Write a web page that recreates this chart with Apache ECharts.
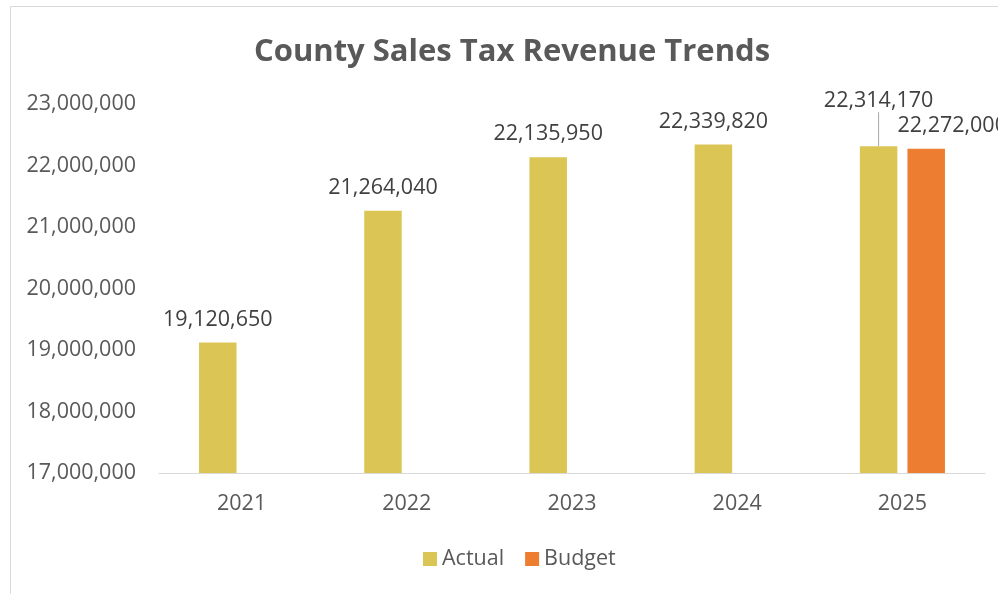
<!DOCTYPE html>
<html>
<head>
<meta charset="utf-8">
<script src="https://cdn.jsdelivr.net/npm/echarts@6/dist/echarts.min.js"></script>
<style>
  html, body { margin: 0; padding: 0; background: #fff; }
  #chart { width: 998px; height: 594px; }
</style>
</head>
<body>
<div id="chart"></div>
<script>
// Fiscal years on the category axis
const years = ['2021', '2022', '2023', '2024', '2025'];
// Collected sales tax revenue per year
const actual = [19120650, 21264040, 22135950, 22339820, 22314170];
// Budgeted revenue (only the current year has a budget figure)
const budget = [null, null, null, null, 22272000];
// Value axis range and step
const yMin = 17000000;
const yMax = 23000000;
const yStep = 1000000;

const FONT = '"Open Sans", "Noto Sans", sans-serif';
const fmt = v => Number(v).toLocaleString('en-US');

// The last actual label is lifted above the budget label and tied to its bar with a leader line
const LIFTED = actual.length - 1;
const actualData = actual.map((v, i) =>
  i === LIFTED ? { value: v, labelLine: { show: true } } : v
);

const chart = echarts.init(document.getElementById('chart'), null, { renderer: 'canvas' });

chart.setOption({
  backgroundColor: '#ffffff',
  animation: false,
  textStyle: { fontFamily: FONT },
  graphic: [{
    type: 'rect',
    shape: { x: 10.5, y: 6.5, width: 1000, height: 600 },
    style: { fill: 'none', stroke: '#D9D9D9', lineWidth: 1 },
    silent: true,
    z: -10
  }],
  title: {
    text: 'County Sales Tax Revenue Trends',
    left: 507,
    textAlign: 'center',
    top: 32,
    textStyle: { fontFamily: FONT, fontSize: 31, fontWeight: 'bold', color: '#595959' }
  },
  legend: {
    data: ['Actual', 'Budget'],
    left: 418,
    top: 543,
    itemWidth: 14,
    itemHeight: 14,
    itemGap: 21,
    icon: 'rect',
    textStyle: { fontFamily: FONT, fontSize: 21.5, color: '#595959' }
  },
  grid: { left: 159, right: 13, top: 104, bottom: 121, containLabel: false },
  xAxis: {
    type: 'category',
    data: years,
    axisLine: { show: true, lineStyle: { color: '#D9D9D9', width: 1 } },
    axisTick: { show: false },
    axisLabel: { fontFamily: FONT, fontSize: 21.5, color: '#595959', margin: 20 }
  },
  yAxis: {
    type: 'value',
    min: yMin,
    max: yMax,
    interval: yStep,
    axisLine: { show: false },
    axisTick: { show: false },
    splitLine: { show: false },
    axisLabel: { fontFamily: FONT, fontSize: 21.5, color: '#595959', margin: 23, formatter: fmt }
  },
  series: [
    {
      name: 'Actual',
      type: 'bar',
      data: actualData,
      barWidth: 37.5,
      barGap: '27%',
      itemStyle: { color: '#DBC655' },
      label: {
        show: true,
        position: 'top',
        distance: 12,
        fontFamily: FONT,
        fontSize: 21.5,
        color: '#404040',
        formatter: p => fmt(p.value)
      },
      labelLine: { show: false, lineStyle: { color: '#A6A6A6', width: 1 } },
      labelLayout: p => (p.dataIndex === LIFTED ? { dy: -22 } : {})
    },
    {
      name: 'Budget',
      type: 'bar',
      data: budget,
      barWidth: 37.5,
      barGap: '27%',
      itemStyle: { color: '#ED7D31' },
      label: {
        show: true,
        position: 'top',
        distance: 12,
        fontFamily: FONT,
        fontSize: 21.5,
        color: '#404040',
        formatter: p => fmt(p.value)
      },
      labelLayout: () => ({ dx: 26 })
    }
  ]
});
</script>
</body>
</html>
